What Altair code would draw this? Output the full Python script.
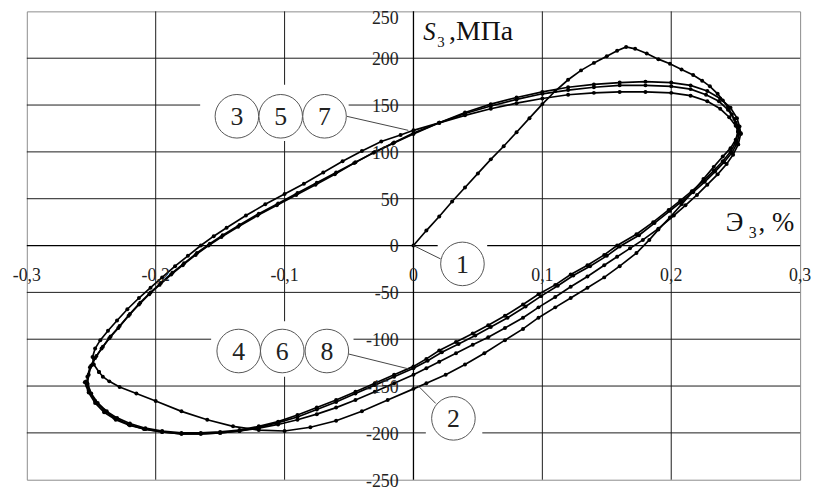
import altair as alt
import pandas as pd

FONT = "Liberation Serif"

# ---------------- data ----------------
# 1: initial loading
s1_x = [0.0, 0.01, 0.02, 0.03, 0.04, 0.05, 0.06, 0.07, 0.08, 0.09, 0.10, 0.11, 0.12, 0.13, 0.14,
        0.15, 0.158, 0.165, 0.172, 0.181, 0.19, 0.199, 0.208, 0.217, 0.224, 0.23, 0.236, 0.24,
        0.244, 0.247, 0.25, 0.252]
s1_y = [0, 16, 31, 47, 62, 77, 92, 106, 121, 136, 151, 165, 177, 187, 195,
        202, 208, 212, 210, 205, 199, 194, 188, 182, 176, 170, 162, 155,
        148, 140, 131, 122]
# 2: first unloading
s2_x = [0.252, 0.25, 0.246, 0.24, 0.233, 0.225, 0.217, 0.208, 0.199, 0.19, 0.183, 0.173, 0.16,
        0.148, 0.135, 0.122, 0.11, 0.097, 0.085, 0.071, 0.055, 0.04, 0.025, 0.01, 0.0, -0.02,
        -0.04, -0.06, -0.08, -0.1, -0.12, -0.14, -0.16, -0.18, -0.2, -0.215, -0.228, -0.236,
        -0.241, -0.244]
s2_y = [122, 113, 104, 95, 84, 71, 58, 44, 30, 17, 6, -8, -22,
        -34, -45, -56, -66, -77, -89, -101, -115, -127, -138, -147, -153, -165,
        -177, -187, -194, -198, -197, -193, -186, -177, -166, -158, -151, -145,
        -140, -135]
# 3, 5, 7: reloading branches
s3_x = [-0.244, -0.248, -0.249, -0.247, -0.243, -0.237, -0.23, -0.222, -0.213, -0.204, -0.195,
        -0.185, -0.175, -0.165, -0.155, -0.145, -0.13, -0.115, -0.1, -0.085, -0.07, -0.055,
        -0.04, -0.025, -0.01, 0.0, 0.02, 0.04, 0.06, 0.08, 0.1, 0.12, 0.14, 0.16, 0.18, 0.2,
        0.215, 0.228, 0.238, 0.245, 0.25, 0.252]
s3_y = [-135, -127, -119, -110, -101, -91, -80, -68, -56, -45, -34,
        -22, -11, 0, 10, 19, 32, 44, 55, 66, 78, 90,
        101, 111, 118, 123, 131, 139, 146, 152, 157, 161, 163, 164, 164, 163,
        160, 154, 146, 137, 128, 121]
s5_x = [-0.253, -0.252, -0.25, -0.246, -0.241, -0.235, -0.228, -0.22, -0.212, -0.204, -0.196,
        -0.187, -0.178, -0.168, -0.158, -0.148, -0.135, -0.12, -0.105, -0.09, -0.075, -0.06,
        -0.045, -0.03, -0.015, 0.0, 0.02, 0.04, 0.06, 0.08, 0.1, 0.12, 0.14, 0.16, 0.18, 0.2,
        0.215, 0.227, 0.237, 0.244, 0.249, 0.252, 0.253]
s5_y = [-148, -138, -128, -118, -108, -97, -86, -73, -61, -50, -40,
        -29, -19, -8, 2, 11, 22, 34, 45, 56, 67, 78,
        89, 100, 110, 120, 131, 141, 149, 156, 162, 166, 169, 171, 171, 170,
        167, 161, 154, 145, 135, 127, 120]
s7_x = [-0.253, -0.253, -0.251, -0.247, -0.242, -0.236, -0.229, -0.221, -0.213, -0.205, -0.197,
        -0.188, -0.179, -0.169, -0.159, -0.149, -0.136, -0.121, -0.106, -0.091, -0.076, -0.061,
        -0.046, -0.031, -0.016, 0.0, 0.02, 0.04, 0.06, 0.08, 0.1, 0.12, 0.14, 0.16, 0.18, 0.2,
        0.215, 0.228, 0.238, 0.246, 0.251, 0.253, 0.254]
s7_y = [-150, -140, -130, -120, -110, -99, -88, -75, -63, -52, -42,
        -31, -21, -10, 0, 9, 20, 32, 43, 54, 65, 76,
        88, 99, 109, 119, 131, 142, 151, 158, 164, 169, 172, 174, 175, 174,
        171, 165, 157, 147, 136, 127, 119]
# 4, 6, 8: unloading branches
s4_x = [0.252, 0.25, 0.246, 0.24, 0.233, 0.225, 0.216, 0.207, 0.198, 0.186, 0.173, 0.158, 0.148,
        0.135, 0.122, 0.11, 0.097, 0.085, 0.071, 0.058, 0.046, 0.033, 0.02, 0.01, 0.0, -0.015,
        -0.03, -0.045, -0.06, -0.075, -0.09, -0.105, -0.12, -0.135, -0.15, -0.165, -0.18,
        -0.195, -0.208, -0.22, -0.23, -0.238, -0.245, -0.25, -0.253]
s4_y = [122, 110, 100, 90, 80, 69, 58, 48, 38, 25, 12, 0, -10,
        -21, -31, -42, -52, -63, -75, -85, -94, -103, -112, -121, -129, -138,
        -147, -156, -165, -173, -181, -188, -193, -197, -199, -200, -200,
        -198, -195, -190, -184, -177, -168, -158, -147]
s6_x = [0.253, 0.251, 0.247, 0.241, 0.234, 0.226, 0.217, 0.208, 0.199, 0.187, 0.175, 0.16, 0.15,
        0.137, 0.124, 0.112, 0.099, 0.087, 0.073, 0.06, 0.048, 0.035, 0.022, 0.011, 0.0, -0.015,
        -0.03, -0.045, -0.06, -0.075, -0.09, -0.105, -0.12, -0.135, -0.15, -0.165, -0.18,
        -0.195, -0.209, -0.221, -0.232, -0.24, -0.247, -0.252, -0.254]
s6_y = [121, 109, 99, 89, 79, 68, 57, 47, 37, 24, 11, -1, -11,
        -22, -32, -43, -54, -65, -77, -87, -96, -105, -114, -123, -131, -140,
        -149, -158, -167, -175, -183, -189, -194, -198, -200, -201, -201,
        -199, -196, -191, -184, -176, -166, -155, -145]
s8_x = [0.254, 0.252, 0.248, 0.243, 0.236, 0.228, 0.22, 0.211, 0.202, 0.19, 0.178, 0.168, 0.158,
        0.148, 0.135, 0.122, 0.11, 0.097, 0.085, 0.071, 0.058, 0.046, 0.033, 0.02, 0.01, 0.0,
        -0.015, -0.03, -0.045, -0.06, -0.075, -0.09, -0.105, -0.12, -0.135, -0.15, -0.165,
        -0.18, -0.195, -0.208, -0.22, -0.231, -0.24, -0.247, -0.252, -0.255]
s8_y = [120, 108, 97, 87, 76, 65, 54, 43, 32, 18, 6, -3, -12,
        -21, -33, -44, -55, -66, -77, -88, -98, -106, -115, -124, -131, -138,
        -147, -156, -165, -173, -180, -186, -191, -195, -198, -200, -201,
        -201, -199, -196, -192, -186, -178, -168, -157, -146]

segments = [("1", s1_x, s1_y), ("2", s2_x, s2_y), ("3", s3_x, s3_y), ("4", s4_x, s4_y),
            ("5", s5_x, s5_y), ("6", s6_x, s6_y), ("7", s7_x, s7_y), ("8", s8_x, s8_y)]

# tick values and labels
x_ticks = [-0.3, -0.2, -0.1, 0.0, 0.1, 0.2, 0.3]
x_tick_labels = ["-0,3", "-0,2", "-0,1", "0", "0,1", "0,2", "0,3"]
y_ticks = [250, 200, 150, 100, 50, 0, -50, -100, -150, -200, -250]
y_tick_labels = ["250", "200", "150", "100", "50", "0", "-50", "-100", "-150", "-200", "-250"]

# callout labels (circle centres in data units)
call_text = ["3", "5", "7", "4", "6", "8", "1", "2"]
call_x = [-0.137, -0.103, -0.069, -0.1356, -0.1018, -0.0672, 0.038, 0.031]
call_y = [138, 138, 138, -112.6, -112.6, -112.6, -19.6, -184.5]
# leader lines
lead_x = [-0.0518, -0.0503, 0.0, 0.0035]
lead_y = [138, -115.8, 0, -149.6]
lead_x2 = [-0.004, -0.004, 0.0211, 0.0173]
lead_y2 = [123, -131.6, -14.3, -168.6]
# white label boxes behind the callouts
box_x = [-0.1655, -0.157, 0.0188, 0.0096]
box_x2 = [-0.0503, -0.0465, 0.0572, 0.0534]
box_y = [171.7, -80.9, 7.9, -158]
box_y2 = [111.5, -140, -47, -211]

# ---------------- tables ----------------
rows = []
for name, xs_, ys_ in segments:
    for i, (a, b) in enumerate(zip(xs_, ys_)):
        rows.append({"seg": name, "i": i, "x": a, "y": b})
curves = pd.DataFrame(rows)

vgrid = pd.DataFrame({"x": [v for v in x_ticks if v not in (-0.3, 0.0, 0.3)]})
hgrid = pd.DataFrame({"y": [v for v in y_ticks if v not in (-250, 0, 250)]})
xlab = pd.DataFrame({"x": x_ticks, "t": x_tick_labels, "y": [0] * len(x_ticks)})
ylab = pd.DataFrame({"y": y_ticks, "t": y_tick_labels, "x": [0] * len(y_ticks)})
ylab_top = ylab[ylab["y"] == 250]
ylab_rest = ylab[ylab["y"] != 250]
calls = pd.DataFrame({"t": call_text, "x": call_x, "y": call_y})
leads = pd.DataFrame({"x": lead_x, "y": lead_y, "x2": lead_x2, "y2": lead_y2})
boxes = pd.DataFrame({"x": box_x, "x2": box_x2, "y": box_y, "y2": box_y2})
zero = pd.DataFrame({"v": [0]})

xs = alt.Scale(domain=[-0.3, 0.3], nice=False, zero=False)
ys = alt.Scale(domain=[-250, 250], nice=False, zero=False)
X = lambda f="x": alt.X(f + ":Q", scale=xs, axis=None)
Y = lambda f="y": alt.Y(f + ":Q", scale=ys, axis=None)

grid_v = alt.Chart(vgrid).mark_rule(color="#1a1a1a", strokeWidth=1).encode(
    x=X(), y=alt.value(0), y2=alt.value(473))
grid_h = alt.Chart(hgrid).mark_rule(color="#1a1a1a", strokeWidth=1).encode(
    y=Y(), x=alt.value(0), x2=alt.value(781))
axis_v = alt.Chart(zero).mark_rule(color="#000", strokeWidth=1.3).encode(
    x=X("v"), y=alt.value(0), y2=alt.value(473))
axis_h = alt.Chart(zero).mark_rule(color="#000", strokeWidth=1.3).encode(
    y=Y("v"), x=alt.value(0), x2=alt.value(781))

box_layer = alt.Chart(boxes).mark_rect(color="white").encode(
    x=X(), x2="x2:Q", y=Y(), y2="y2:Q")

line_layer = alt.Chart(curves).mark_line(color="#000", strokeWidth=1.7).encode(
    x=X(), y=Y(), detail="seg:N", order="i:Q")
pt_layer = alt.Chart(curves).mark_circle(color="#000", size=16, opacity=1).encode(
    x=X(), y=Y(), detail="seg:N")

lead_layer = alt.Chart(leads).mark_rule(color="#444", strokeWidth=1).encode(
    x=X(), y=Y(), x2="x2:Q", y2="y2:Q")
circ_layer = alt.Chart(calls).mark_circle(color="white", stroke="#555", strokeWidth=1,
                                          size=1936, opacity=1).encode(x=X(), y=Y())
circ_text = alt.Chart(calls).mark_text(font=FONT, fontSize=26, color="#222",
                                       baseline="middle", dy=1).encode(x=X(), y=Y(), text="t:N")

xlab_layer = alt.Chart(xlab).mark_text(font=FONT, fontSize=18, color="#222",
                                       baseline="middle", align="center", dy=31).encode(
    x=X(), y=Y(), text="t:N")
ylab_layer = alt.Chart(ylab_rest).mark_text(font=FONT, fontSize=18, color="#222",
                                            baseline="middle", align="right", dx=-15, dy=2).encode(
    x=X(), y=Y(), text="t:N")
ylab_top_layer = alt.Chart(ylab_top).mark_text(font=FONT, fontSize=18, color="#222",
                                               baseline="middle", align="right", dx=-15, dy=8).encode(
    x=X(), y=Y(), text="t:N")

top = pd.DataFrame({"x": [0.0], "y": [250]})
t_S = alt.Chart(top).mark_text(font=FONT, fontSize=25, fontStyle="italic", color="#111",
                               align="left", baseline="alphabetic", dx=10, dy=29).encode(
    x=X(), y=Y(), text=alt.value("S"))
t_S3 = alt.Chart(top).mark_text(font=FONT, fontSize=15, color="#111",
                                align="left", baseline="alphabetic", dx=24, dy=36).encode(
    x=X(), y=Y(), text=alt.value("3"))
t_S4 = alt.Chart(top).mark_text(font=FONT, fontSize=28, color="#111",
                                align="left", baseline="alphabetic", dx=36, dy=29).encode(
    x=X(), y=Y(), text=alt.value(",МПа"))

right = pd.DataFrame({"x": [0.3], "y": [0]})
t_E = alt.Chart(right).mark_text(font=FONT, fontSize=27, color="#111",
                                 align="left", baseline="alphabetic", dx=-75, dy=-15).encode(
    x=X(), y=Y(), text=alt.value("Э"))
t_E3 = alt.Chart(right).mark_text(font=FONT, fontSize=16, color="#111",
                                  align="left", baseline="alphabetic", dx=-52, dy=-8).encode(
    x=X(), y=Y(), text=alt.value("3"))
t_E4 = alt.Chart(right).mark_text(font=FONT, fontSize=27, color="#111",
                                  align="left", baseline="alphabetic", dx=-42, dy=-15).encode(
    x=X(), y=Y(), text=alt.value(", %"))

chart = alt.layer(
    grid_v, grid_h, axis_v, axis_h, box_layer, line_layer, pt_layer,
    lead_layer, circ_layer, circ_text, xlab_layer, ylab_layer, ylab_top_layer,
    t_S, t_S3, t_S4, t_E, t_E3, t_E4
).properties(
    width=781, height=473,
    autosize=alt.AutoSizeParams(type="none"),
    padding={"left": 19, "top": 1, "right": 12, "bottom": 10},
    background="white",
).configure_view(stroke="#8c8c8c", strokeWidth=1)

chart.save("out.html", embed_options={"renderer": "svg", "actions": False})
